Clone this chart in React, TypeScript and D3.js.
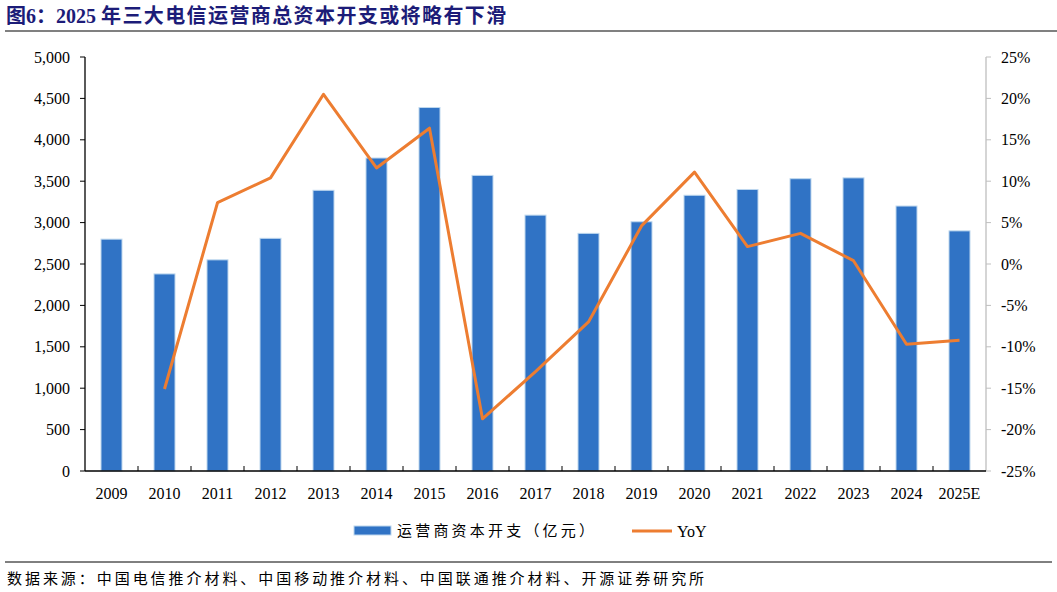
import React from "react";
import * as d3 from "d3";

const categories = ["2009","2010","2011","2012","2013","2014","2015","2016","2017","2018","2019","2020","2021","2022","2023","2024","2025E"];
const capex = [2800,2380,2550,2810,3390,3780,4390,3570,3090,2870,3010,3330,3400,3530,3540,3200,2900];
const yoy: (number | null)[] = [null,-15.1,7.4,10.4,20.5,11.6,16.4,-18.7,-13.0,-7.0,4.6,11.1,2.1,3.7,0.4,-9.7,-9.2];
const leftTicks = [0,500,1000,1500,2000,2500,3000,3500,4000,4500,5000];
const rightTicks = [-25,-20,-15,-10,-5,0,5,10,15,20,25];

const W = 1057, H = 592;
const L = 85, R = 986, T = 57, B = 471;
const serif = "'Liberation Serif', 'Times New Roman', serif";
const cjk = "'Noto Sans CJK SC', sans-serif";

export default function App() {
  const x = d3.scaleBand<string>().domain(categories).range([L, R]).padding(0);
  const y = d3.scaleLinear().domain([0, 5000]).range([B, T]);
  const y2 = d3.scaleLinear().domain([-25, 25]).range([B, T]);
  const bw = 21;
  const line = d3.line<[string, number | null]>()
    .defined(d => d[1] !== null)
    .x(d => (x(d[0]) as number) + x.bandwidth() / 2)
    .y(d => y2(d[1] as number));
  const pts = categories.map((c, i) => [c, yoy[i]] as [string, number | null]);

  return (
    <svg width={W} height={H} style={{ position: "absolute", left: 0, top: 0, background: "#fff" }}>
      <rect x={0} y={0} width={W} height={H} fill="#fff" />
      <text x={6} y={23} fontSize={20} fontWeight="bold" fill="#1c1c78" fontFamily={`${serif}, ${cjk}`}>
        <tspan fontFamily={cjk}>图</tspan><tspan>6</tspan><tspan fontFamily={cjk}>：</tspan><tspan>2025 </tspan><tspan fontFamily={cjk} letterSpacing={1.4}>年三大电信运营商总资本开支或将略有下滑</tspan>
      </text>
      <line x1={5} x2={W} y1={31} y2={31} stroke="#808080" strokeWidth={2} />

      {categories.map((c, i) => (
        <rect key={c} x={(x(c) as number) + x.bandwidth() / 2 - bw / 2} y={y(capex[i])} width={bw} height={B - y(capex[i])}
          fill="#3073C5" stroke="#BDD7EE" strokeWidth={1} />
      ))}

      {/* left axis */}
      <line x1={L} x2={L} y1={T} y2={B} stroke="#000" strokeWidth={1.3} />
      {leftTicks.map(t => (
        <g key={t}>
          <line x1={L - 5} x2={L} y1={y(t)} y2={y(t)} stroke="#000" strokeWidth={1} />
          <text x={70} y={y(t)} dy="0.35em" textAnchor="end" fontSize={16} fontFamily={serif} fill="#000">{d3.format(",")(t)}</text>
        </g>
      ))}
      {/* right axis */}
      <line x1={R} x2={R} y1={T} y2={B} stroke="#BFBFBF" strokeWidth={1.3} />
      {rightTicks.map(t => (
        <g key={t}>
          <line x1={R} x2={R + 5} y1={y2(t)} y2={y2(t)} stroke="#BFBFBF" strokeWidth={1} />
          <text x={1001} y={y2(t)} dy="0.35em" textAnchor="start" fontSize={16} fontFamily={serif} fill="#000">{t}%</text>
        </g>
      ))}
      {/* x axis */}
      <line x1={L} x2={R} y1={B} y2={B} stroke="#000" strokeWidth={1.3} />
      {categories.map((c, i) => (
        <g key={c}>
          {i > 0 && <line x1={x(c) as number} x2={x(c) as number} y1={B - 5} y2={B} stroke="#000" strokeWidth={1} />}
          <text x={(x(c) as number) + x.bandwidth() / 2} y={493} dy="0.35em" textAnchor="middle" fontSize={16} fontFamily={serif} fill="#000">{c}</text>
        </g>
      ))}

      <path d={line(pts) || ""} fill="none" stroke="#ED7D31" strokeWidth={3} strokeLinejoin="round" />

      {/* legend */}
      <rect x={354} y={526} width={37} height={9} fill="#3073C5" stroke="#BDD7EE" strokeWidth={1} />
      <text x={397} y={531} dy="0.35em" fontSize={15} fontFamily={cjk} letterSpacing={3.2} fill="#000">运营商资本开支（亿元）</text>
      <line x1={632} x2={672} y1={531} y2={531} stroke="#ED7D31" strokeWidth={3} />
      <text x={677} y={531} dy="0.35em" fontSize={16} fontFamily={serif} fill="#000">YoY</text>

      <line x1={5} x2={1052} y1={562} y2={562} stroke="#000" strokeWidth={1} />
      <text x={7} y={579} dy="0.35em" fontSize={15} fontFamily={cjk} letterSpacing={2.95} fill="#000">数据来源：中国电信推介材料、中国移动推介材料、中国联通推介材料、开源证券研究所</text>
    </svg>
  );
}
